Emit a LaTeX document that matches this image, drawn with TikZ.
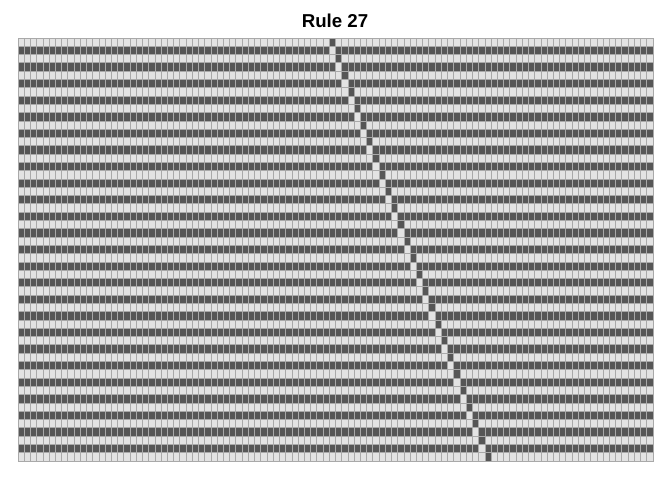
\documentclass[tikz,border=0pt]{standalone}
\usepackage{fontspec}
\setmainfont{Liberation Sans}
\definecolor{offgray}{HTML}{E3E3E3}
\definecolor{ongray}{HTML}{565656}
\definecolor{linegray}{HTML}{A9A9A9}
\begin{document}
\begin{tikzpicture}[x=4.66912pt, y=-6.22059pt,
  cellbox/.style={draw=linegray, line width=0.6pt},
  oncell/.style={cellbox, fill=ongray},
  offcell/.style={cellbox, fill=offgray}]
\useasboundingbox (-13.5pt,28.5pt) rectangle (490.5pt,-331.5pt);

\node[font=\bfseries\fontsize{14pt}{16pt}\selectfont, anchor=base] (title) at (237.75pt,7.9pt) {Rule 27};

% one row per generation, the odd cell drifts right every second row
\foreach \r in {0,...,50}{
  \pgfmathtruncatemacro\d{50+floor(\r/2)}
  \foreach \c in {0,...,101}{
    \pgfmathtruncatemacro\s{mod(\r,2)==(\c!=\d)}
    \ifnum\s=1
      \draw[oncell] (\c,\r) rectangle ++(1,1);
    \else
      \draw[offcell] (\c,\r) rectangle ++(1,1);
    \fi
  }
}
\end{tikzpicture}
\end{document}
